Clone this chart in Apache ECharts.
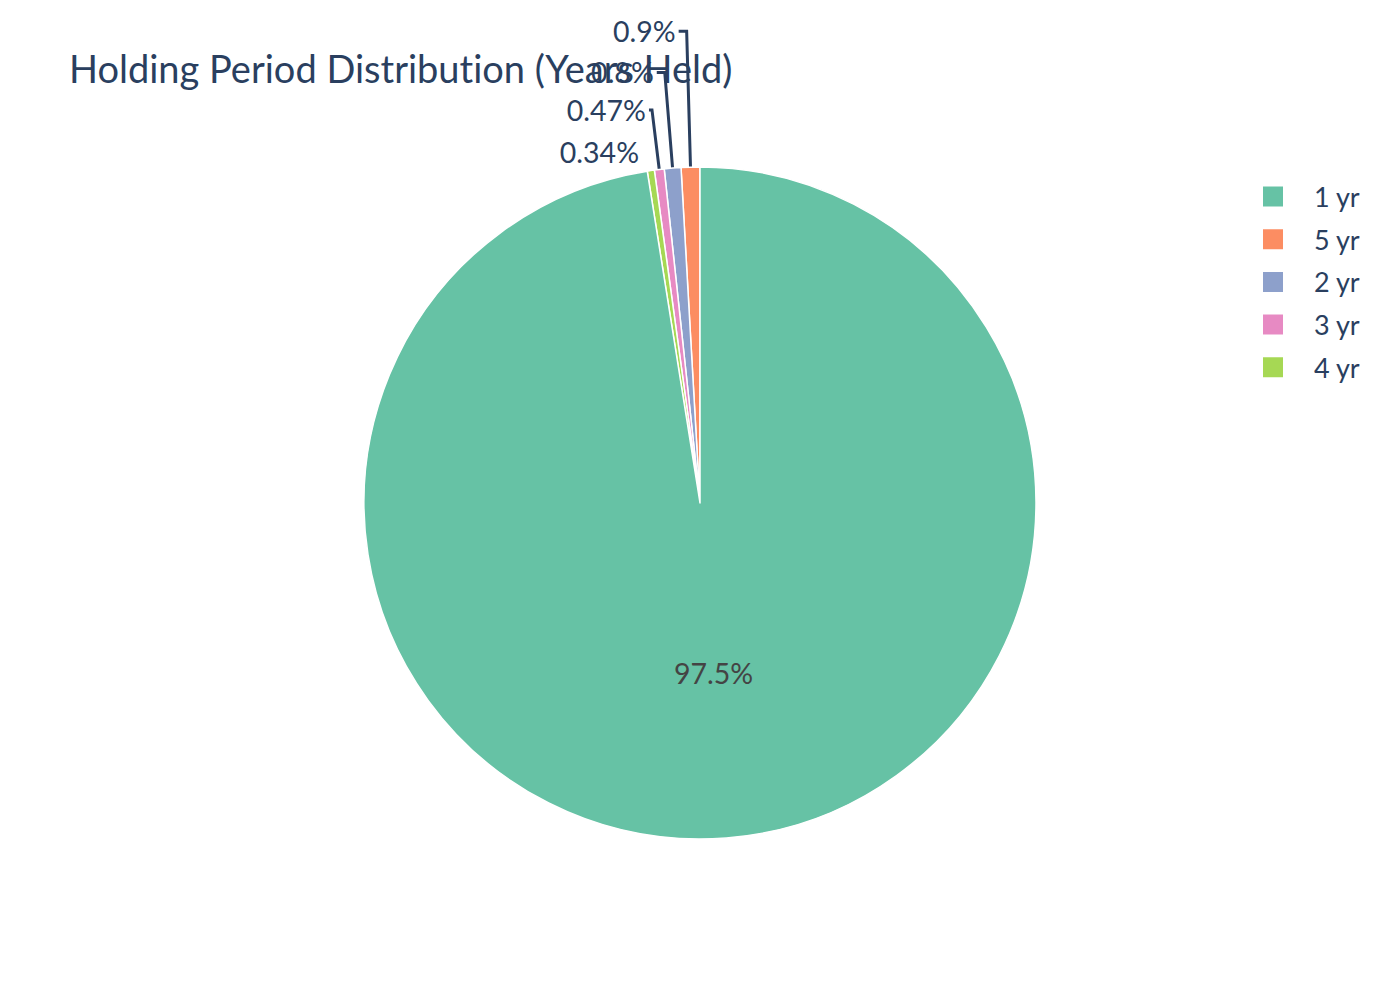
<!DOCTYPE html>
<html>
<head>
<meta charset="utf-8">
<script src="https://cdn.jsdelivr.net/npm/echarts@6/dist/echarts.min.js"></script>
<style>
  html, body { margin: 0; padding: 0; background: #fff; }
  #chart { width: 1400px; height: 1000px; }
  #chart text { font-variant-ligatures: none; }
</style>
</head>
<body>
<div id="chart"></div>
<script>
'use strict';

// slices in drawing order (counter-clockwise from 12 o'clock)
var categories = ['5 yr', '2 yr', '3 yr', '4 yr', '1 yr'];
var shares = [0.9, 0.8, 0.47, 0.34, 97.5];
var legendOrder = ['1 yr', '5 yr', '2 yr', '3 yr', '4 yr'];
var colors = {'1 yr': '#66c2a5', '5 yr': '#fc8d62', '2 yr': '#8da0cb', '3 yr': '#e78ac3', '4 yr': '#a6d854'};
// leader line lengths so the small labels stack upward
var lineLen = {'5 yr': 136, '2 yr': 96, '3 yr': 60, '4 yr': 19};
var lineLen2 = {'5 yr': 8, '2 yr': 8, '3 yr': 3, '4 yr': 6};

var FONT = '"Source Sans Pro", Lato, sans-serif';
var chartDom = document.getElementById('chart');
var myChart = echarts.init(chartDom, null, {renderer: 'svg'});

var data = categories.map(function (name, i) {
  var item = {
    name: name,
    value: shares[i],
    itemStyle: {color: colors[name]}
  };
  if (name === '1 yr') {
    item.label = {position: 'inside', color: '#444444'};
  } else {
    item.labelLine = {length: lineLen[name], length2: lineLen2[name], show: name !== '4 yr'};
  }
  return item;
});

var option = {
  animation: false,
  title: {
    text: 'Holding Period Distribution (Years Held)',
    left: 64,
    top: 44,
    textStyle: {fontFamily: FONT, fontSize: 38, fontWeight: 'normal', color: '#2a3f5f'}
  },
  legend: {
    orient: 'vertical',
    left: 1256,
    top: 178,
    data: legendOrder,
    icon: 'rect',
    itemWidth: 22,
    itemHeight: 22,
    itemGap: 15.7,
    textStyle: {fontFamily: FONT, fontSize: 27, color: '#2a3f5f', padding: [0, 0, 0, 25]}
  },
  series: [
    {
      type: 'pie',
      center: [700, 503],
      radius: 336,
      startAngle: 90,
      clockwise: false,
      avoidLabelOverlap: false,
      data: data,
      itemStyle: {borderColor: '#ffffff', borderWidth: 1.5},
      label: {
        show: true,
        fontFamily: FONT,
        fontSize: 28.5,
        color: '#2a3f5f',
        distanceToLabelLine: 3,
        formatter: function (p) {
          return p.value + '%';
        }
      },
      labelLine: {
        smooth: false,
        lineStyle: {color: '#2a3f5f', width: 3}
      },
      emphasis: {disabled: true}
    }
  ]
};

myChart.setOption(option);
</script>
</body>
</html>
